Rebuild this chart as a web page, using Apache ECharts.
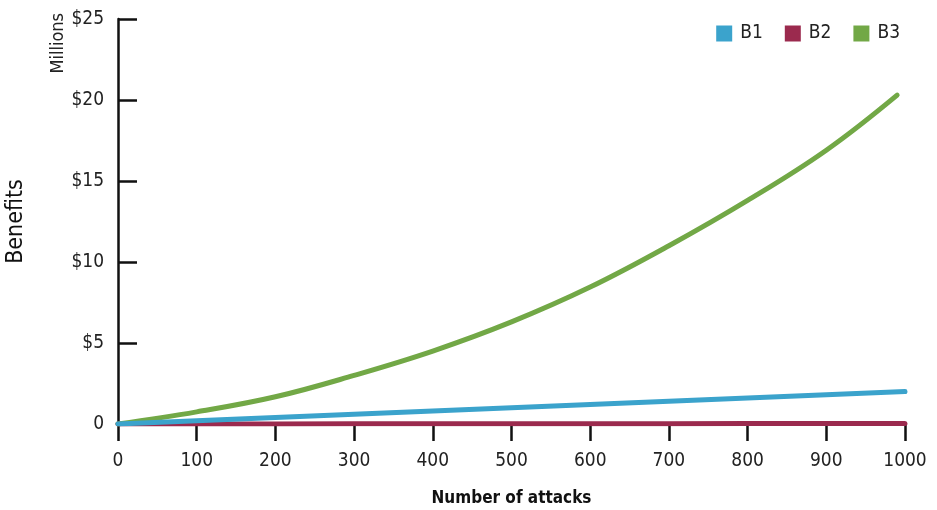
<!DOCTYPE html>
<html>
<head>
<meta charset="utf-8">
<script src="https://cdn.jsdelivr.net/npm/echarts@6/dist/echarts.min.js"></script>
<style>
html,body{margin:0;padding:0;background:#fff;}
#c{width:937px;height:510px;}
</style>
</head>
<body>
<div id="c"></div>
<script>
var attacks = [0, 100, 200, 300, 400, 500, 600, 700, 800, 900, 1000];
var b1 = [0, 0.2, 0.4, 0.6, 0.8, 1.0, 1.2, 1.4, 1.6, 1.8, 2.0];
var b2 = [0, 0.003, 0.006, 0.009, 0.012, 0.015, 0.018, 0.021, 0.024, 0.027, 0.03];
var b3Attacks = [0, 100, 200, 300, 400, 500, 600, 700, 800, 900, 990];
var b3 = [0, 0.75, 1.68, 3.0, 4.5, 6.3, 8.45, 11.0, 13.8, 16.9, 20.3];
var seriesNames = ['B1', 'B2', 'B3'];
var colors = ['#3ba3cc', '#9b2a4e', '#72a846'];

var FONT = '"Liberation Sans Narrow", "DejaVu Sans Condensed", "Roboto Condensed", sans-serif';

function pairs(xs, ys) { return xs.map(function (x, i) { return [x, ys[i]]; }); }

var chart = echarts.init(document.getElementById('c'));
chart.setOption({
  animation: false,
  textStyle: { fontFamily: FONT },
  grid: { left: 118, right: 32, top: 19, bottom: 86, containLabel: false, outerBoundsMode: 'none' },
  legend: {
    right: 32, top: 19,
    itemWidth: 16, itemHeight: 16, itemGap: 22,
    icon: 'rect',
    textStyle: { fontFamily: FONT, fontSize: 19, color: '#222', padding: [0, 0, 0, 3] },
    data: seriesNames
  },
  xAxis: {
    type: 'value', min: 0, max: 1000, interval: 100,
    name: 'Number of attacks', nameLocation: 'middle', nameGap: 66,
    nameTextStyle: { fontFamily: FONT, fontSize: 17, fontWeight: 'bold', color: '#111' },
    axisLine: { show: false },
    axisTick: { show: true, inside: false, length: 17, lineStyle: { color: '#111', width: 2.5 } },
    axisLabel: { fontFamily: FONT, fontSize: 19, color: '#222', margin: 28,
      formatter: function (v) { return String(v); } },
    splitLine: { show: false }
  },
  yAxis: {
    type: 'value', min: 0, max: 25, interval: 5,
    name: 'Benefits', nameLocation: 'middle', nameGap: 90, nameRotate: 90,
    nameTextStyle: { fontFamily: FONT, fontSize: 23, color: '#111' },
    axisLine: { show: true, lineStyle: { color: '#111', width: 2.5 } },
    axisTick: { show: true, inside: true, length: 19, lineStyle: { color: '#111', width: 2.5 } },
    axisLabel: {
      fontFamily: FONT, fontSize: 19, color: '#222', margin: 14,
      formatter: function (v) { return v === 0 ? '0' : '$' + v; }
    },
    splitLine: { show: false }
  },
  graphic: [{
    type: 'text', left: 49, top: 13, rotation: Math.PI / 2,
    style: { text: 'Millions', fontFamily: FONT, fontSize: 18, fill: '#222' }
  }],
  series: [
    { name: seriesNames[0], type: 'line', data: pairs(attacks, b1), showSymbol: false, symbol: 'rect',
      itemStyle: { color: colors[0] }, lineStyle: { color: colors[0], width: 5, cap: 'round' }, z: 3 },
    { name: seriesNames[1], type: 'line', data: pairs(attacks, b2), showSymbol: false, symbol: 'rect',
      itemStyle: { color: colors[1] }, lineStyle: { color: colors[1], width: 5, cap: 'round' }, z: 2 },
    { name: seriesNames[2], type: 'line', data: pairs(b3Attacks, b3), showSymbol: false, smooth: 0.4, symbol: 'rect',
      itemStyle: { color: colors[2] }, lineStyle: { color: colors[2], width: 5, cap: 'round' }, z: 2 }
  ]
});
</script>
</body>
</html>
